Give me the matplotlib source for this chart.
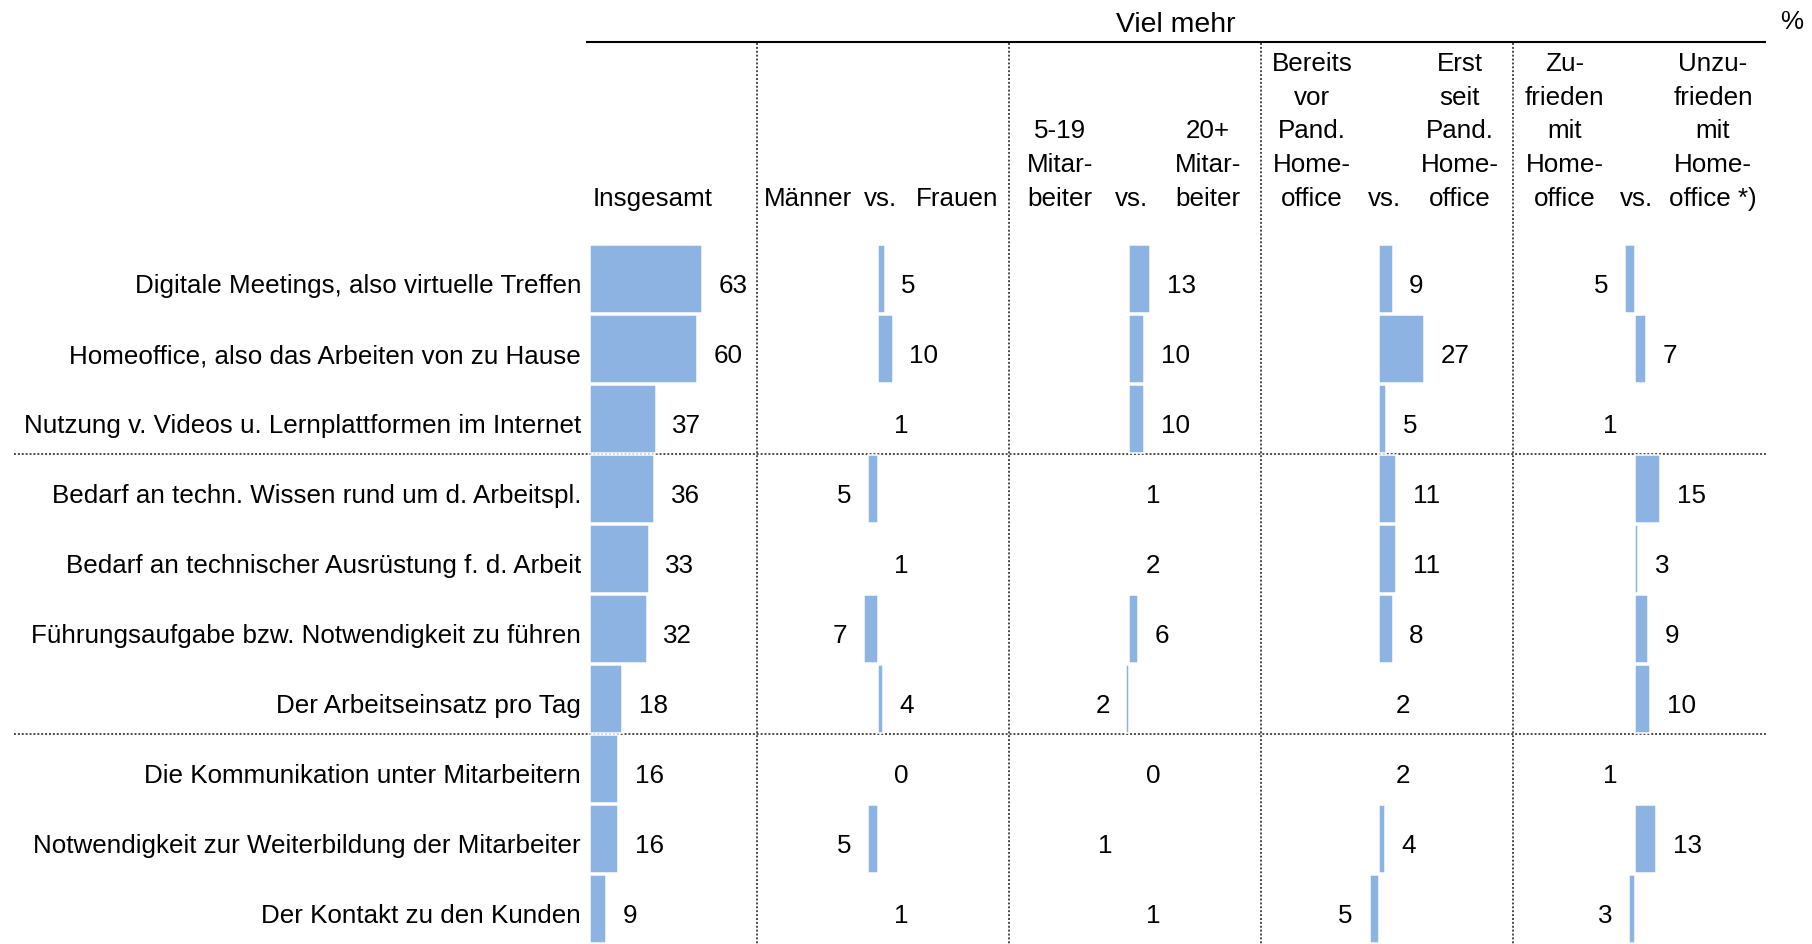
import matplotlib
matplotlib.use('Agg')
import matplotlib.pyplot as plt

plt.rcParams['font.family'] = ['Liberation Sans', 'DejaVu Sans']
plt.rcParams['font.size'] = 18.7

# ----------------------------------------------------------------------
# data
# ----------------------------------------------------------------------
rows = [
    'Digitale Meetings, also virtuelle Treffen',
    'Homeoffice, also das Arbeiten von zu Hause',
    'Nutzung v. Videos u. Lernplattformen im Internet',
    'Bedarf an techn. Wissen rund um d. Arbeitspl.',
    'Bedarf an technischer Ausrüstung f. d. Arbeit',
    'Führungsaufgabe bzw. Notwendigkeit zu führen',
    'Der Arbeitseinsatz pro Tag',
    'Die Kommunikation unter Mitarbeitern',
    'Notwendigkeit zur Weiterbildung der Mitarbeiter',
    'Der Kontakt zu den Kunden',
]
insgesamt = [63, 60, 37, 36, 33, 32, 18, 16, 16, 9]

# group comparisons: left group vs. right group
left_heads = [
    ['Männer'],
    ['5-19', 'Mitar-', 'beiter'],
    ['Bereits', 'vor', 'Pand.', 'Home-', 'office'],
    ['Zu-', 'frieden', 'mit', 'Home-', 'office'],
]
right_heads = [
    ['Frauen'],
    ['20+', 'Mitar-', 'beiter'],
    ['Erst', 'seit', 'Pand.', 'Home-', 'office'],
    ['Unzu-', 'frieden', 'mit', 'Home-', 'office *)'],
]
# printed difference (negative = left group higher)
diff_labels = [
    [5, 10, 1, -5, 1, -7, 4, 0, -5, 1],
    [13, 10, 10, 1, 2, 6, -2, 0, -1, 1],
    [9, 27, 5, 11, 11, 8, 2, 2, 4, -5],
    [-5, 7, -1, 15, 3, 9, 10, -1, 13, -3],
]
# bar length as drawn in the picture
diff_bars = [
    [4.0, 8.5, 0, -5.3, 0, -7.6, 2.9, 0, -5.3, 0],
    [11.9, 8.5, 8.5, 0, 0, 5.2, -1.6, 0, 0, 0],
    [7.6, 25.4, 4.2, 9.8, 9.8, 7.6, 0, 0, 3.1, -5.3],
    [-5.3, 6.5, 0, 14.3, 2.0, 7.6, 8.7, 0, 12.1, -3.1],
]

# ----------------------------------------------------------------------
# layout (pixels)
# ----------------------------------------------------------------------
W, H = 1812, 945
K = 1.78            # px per percentage point
ROW_PX = 70
ROW0_Y = 280
HEAD_Y = 43
BLUE = '#8DB3E2'
TXT_DY = -2.8       # label baseline shift (pt)
origins = [589.8, 877.5, 1129.2, 1379, 1634.5]
seps = [757, 1009, 1260.5, 1512.5, 1766]
left_x = [807.6, 1060, 1312, 1564.5]
vs_x = [880, 1131, 1384, 1636]
right_x = [957, 1208, 1460, 1713]
HEAD_BASE = 206
HEAD_PITCH = 33.8

fig = plt.figure(figsize=(W / 100, H / 100), dpi=100)

# background axes in pixel coords for rules and header text
bg = fig.add_axes([0, 0, 1, 1])
bg.set_xlim(0, W)
bg.set_ylim(H, 0)
bg.axis('off')

dot = dict(color='#4a4a4a', lw=1.4, linestyle=(0, (1, 1)))
bg.plot([586, seps[-1]], [HEAD_Y, HEAD_Y], color='black', lw=1.5,
        solid_capstyle='butt')
for s in seps[:-1]:
    bg.plot([s, s], [HEAD_Y + 1, H], **dot)
for b in [2.5, 6.5]:
    yb = ROW0_Y + b * ROW_PX
    bg.plot([14, seps[-1]], [yb, yb], **dot)

bg.text(1175.5, 31.7, 'Viel mehr', ha='center', va='baseline', fontsize=20.4)
bg.text(1780, 29, '%', ha='left', va='baseline')
bg.text(593, HEAD_BASE, 'Insgesamt', ha='left', va='baseline')


def head(x, lines):
    n = len(lines)
    for i, t in enumerate(lines):
        bg.text(x, HEAD_BASE - (n - 1 - i) * HEAD_PITCH, t,
                ha='center', va='baseline')


for j in range(4):
    head(left_x[j], left_heads[j])
    head(vs_x[j], ['vs.'])
    head(right_x[j], right_heads[j])

ytop = (HEAD_Y - ROW0_Y) / ROW_PX
ybot = (H - ROW0_Y) / ROW_PX
ypos = list(range(len(rows)))


def col_axes(left, right, origin):
    ax = fig.add_axes([left / W, 0, (right - left) / W, (H - HEAD_Y) / H])
    ax.set_xlim((left - origin) / K, (right - origin) / K)
    ax.set_ylim(ybot, ytop)
    ax.patch.set_visible(False)
    for sp in ax.spines.values():
        sp.set_visible(False)
    ax.set_xticks([])
    ax.set_yticks([])
    return ax


def value_label(ax, text, x, y, side):
    ax.annotate(text, xy=(x, y), xytext=(12 * side, TXT_DY),
                textcoords='offset points',
                ha='left' if side > 0 else 'right', va='center_baseline')


# Insgesamt
ax0 = col_axes(origins[0], seps[0], origins[0])
ax0.barh(ypos, insgesamt, height=0.98, color=BLUE, edgecolor='white',
         linewidth=1.08, zorder=3)
for y, v, name in zip(ypos, insgesamt, rows):
    value_label(ax0, str(v), v, y, 1)
    ax0.annotate(name, xy=(0, y), xytext=(-6.3, TXT_DY),
                 textcoords='offset points', ha='right', va='center_baseline')

# comparison columns
for j in range(4):
    ax = col_axes(seps[j], seps[j + 1], origins[j + 1])
    ax.barh(ypos, diff_bars[j], height=0.98, color=BLUE, edgecolor='white',
            linewidth=1.08, zorder=3)
    for y, v, b in zip(ypos, diff_labels[j], diff_bars[j]):
        value_label(ax, str(abs(v)), b, y, -1 if v < 0 else 1)

fig.savefig('out.png', dpi=100)
